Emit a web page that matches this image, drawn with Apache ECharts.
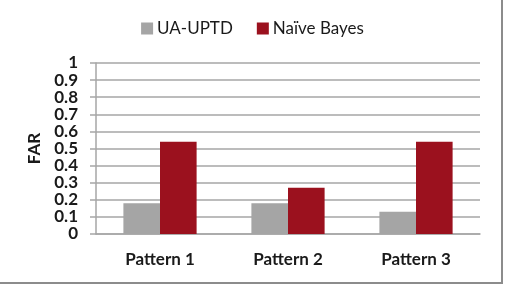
<!DOCTYPE html>
<html>
<head>
<meta charset="utf-8">
<script src="https://cdn.jsdelivr.net/npm/echarts@6/dist/echarts.min.js"></script>
<style>
  html, body { margin: 0; padding: 0; background: #fff; }
  #wrap { position: relative; width: 505px; height: 288px; }
  #chart { position: absolute; left: 0; top: 0; width: 505px; height: 288px; }
  #frame { position: absolute; left: -2px; top: -2px; width: 503px; height: 284px;
           border-right: 2px solid #8c8c8c; border-bottom: 2px solid #8c8c8c; pointer-events: none; }
</style>
</head>
<body>
<div id="wrap"><div id="chart"></div><div id="frame"></div></div>
<script>
const categories = ['Pattern 1', 'Pattern 2', 'Pattern 3'];
const seriesNames = ['UA-UPTD', 'Naïve Bayes'];
const uaUptd = [0.18, 0.18, 0.13];
const naiveBayes = [0.54, 0.27, 0.54];
const yMin = 0, yMax = 1, yStep = 0.1;

const chart = echarts.init(document.getElementById('chart'), null, { renderer: 'canvas' });
const font = 'Lato, "Open Sans", sans-serif';
chart.setOption({
  animation: false,
  textStyle: { fontFamily: font },
  legend: {
    top: 15, left: 'center',
    itemWidth: 12, itemHeight: 12, itemGap: 24,
    icon: 'rect',
    textStyle: { fontFamily: font, fontSize: 17, color: '#1a1a1a', padding: [0, 0, 0, -1] },
    data: seriesNames
  },
  grid: { left: 96, right: 25, top: 63, bottom: 54, containLabel: false },
  xAxis: {
    type: 'category', data: categories,
    axisLine: { lineStyle: { color: '#a6a6a6', width: 1.5 } },
    axisTick: { show: false },
    axisLabel: { margin: 17, fontFamily: font, fontSize: 17, fontWeight: 'bold', color: '#1a1a1a' }
  },
  yAxis: {
    type: 'value', min: yMin, max: yMax, interval: yStep,
    name: 'FAR', nameLocation: 'middle', nameRotate: 90, nameGap: 50,
    nameTextStyle: { fontFamily: font, fontSize: 17, fontWeight: 'bold', color: '#1a1a1a' },
    axisLine: { show: true, lineStyle: { color: '#a6a6a6', width: 1.5 } },
    axisTick: { show: true, length: 6, lineStyle: { color: '#a6a6a6', width: 1.5 } },
    axisLabel: { margin: 18, fontFamily: font, fontSize: 17, fontWeight: 'bold', color: '#1a1a1a',
                 formatter: v => String(Math.round(v * 10) / 10) },
    splitLine: { lineStyle: { color: '#a6a6a6', width: 1.5 } }
  },
  series: [
    { name: seriesNames[0], type: 'bar', data: uaUptd, barWidth: '28.6%', barGap: '0%',
      itemStyle: { color: '#a5a5a5' } },
    { name: seriesNames[1], type: 'bar', data: naiveBayes, barWidth: '28.6%', barGap: '0%',
      itemStyle: { color: '#9b111e' } }
  ]
});
</script>
</body>
</html>
